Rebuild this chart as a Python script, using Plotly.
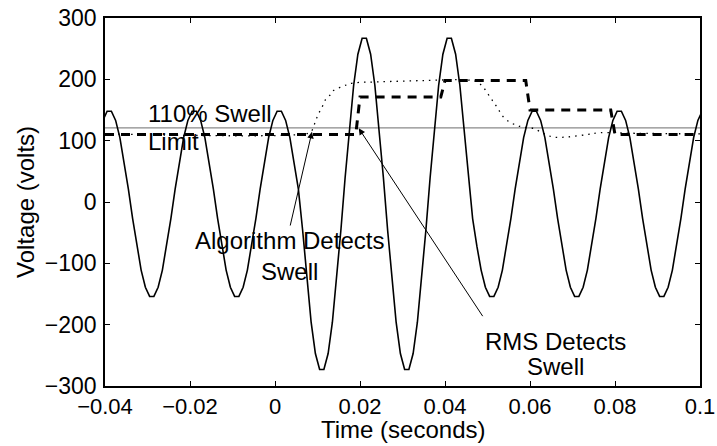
import numpy as np
import plotly.graph_objects as go

# ---------------- data ----------------
# sampled voltage waveform: 1 ms sampling, first sample at -0.0405 s
sample_start = -0.0405
sample_step = 0.001
voltage = [
    133, 148, 148, 133, 105, 66, 21, -27, -72, -111, -139, -154, -154, -139, -111, -72, -27, 21, 66, 105,
    133, 148, 148, 133, 105, 66, 21, -27, -72, -111, -139, -154, -154, -139, -111, -72, -27, 21, 66, 105,
    133, 148, 148, 133, 105, 66, 21, -46, -127, -196, -247, -273, -273, -247, -196, -127, -46, 40, 121, 190,
    241, 267, 267, 241, 190, 121, 40, -46, -127, -196, -247, -273, -273, -247, -196, -127, -46, 40, 121, 190,
    241, 267, 267, 241, 190, 121, 40, -27, -72, -111, -139, -154, -154, -139, -111, -72, -27, 21, 66, 105,
    133, 148, 148, 133, 105, 66, 21, -27, -72, -111, -139, -154, -154, -139, -111, -72, -27, 21, 66, 105,
    133, 148, 148, 133, 105, 66, 21, -27, -72, -111, -139, -154, -154, -139, -111, -72, -27, 21, 66, 105,
    133, 148,
]
time = np.round(sample_start + sample_step * np.arange(len(voltage)), 4)

# algorithm estimate (dotted)
alg_t = [-0.04, 0.007, 0.0085, 0.0094, 0.0101, 0.0111, 0.0118, 0.0129, 0.0136, 0.0153, 0.0169,
         0.0184, 0.025, 0.035, 0.045, 0.0475, 0.049, 0.0506, 0.0522, 0.0537, 0.0553, 0.0569,
         0.0584, 0.0608, 0.0631, 0.0654, 0.0687, 0.0734, 0.0765, 0.085, 0.1]
alg_v = [111, 111, 115, 129, 142, 155, 166, 174, 181, 187, 191,
         194, 196, 198, 199, 196, 187, 171, 155, 139, 130, 125,
         122, 120, 112, 106, 106, 110, 113, 112, 111]

# one-cycle RMS (dashed)
rms_t = [-0.04, 0.019, 0.020, 0.039, 0.040, 0.059, 0.060, 0.079, 0.080, 0.1]
rms_v = [110, 110, 171, 171, 198, 198, 150, 150, 110, 110]

swell_limit = 121
x_ticks = [-0.04, -0.02, 0, 0.02, 0.04, 0.06, 0.08, 0.1]
x_tick_labels = ["\u22120.04", "\u22120.02", "0", "0.02", "0.04", "0.06", "0.08", "0.1"]
y_ticks = [-300, -200, -100, 0, 100, 200, 300]
y_tick_labels = ["\u2212300", "\u2212200", "\u2212100", "0", "100", "200", "300"]

FONT = "Liberation Sans, Arial, Helvetica, sans-serif"
FS = 24
TFS = 23

fig = go.Figure()
fig.add_trace(go.Scatter(x=[-0.04, 0.1], y=[swell_limit, swell_limit], mode="lines",
                         line=dict(color="#8a8a8a", width=1.2), showlegend=False))
fig.add_trace(go.Scatter(x=time, y=voltage, mode="lines",
                         line=dict(color="black", width=1.6), showlegend=False))
fig.add_trace(go.Scatter(x=alg_t, y=alg_v, mode="lines", line_shape="spline",
                         line=dict(color="black", width=1.3, dash="1.5px,5px"), showlegend=False))
fig.add_trace(go.Scatter(x=rms_t, y=rms_v, mode="lines",
                         line=dict(color="black", width=3, dash="9px,7px"), showlegend=False))

axis_common = dict(showline=True, linecolor="black", linewidth=1.5, mirror="ticks",
                   ticks="inside", ticklen=5, tickwidth=1, tickcolor="black",
                   showgrid=False, zeroline=False, automargin=False)
fig.update_xaxes(range=[-0.04, 0.1], tickvals=x_ticks, ticktext=x_tick_labels,
                 ticklabelstandoff=0, tickfont=dict(family=FONT, size=22, color="black"),
                 **axis_common)
fig.update_yaxes(range=[-300, 300], tickvals=y_ticks, ticktext=y_tick_labels,
                 ticklabelstandoff=2, tickfont=dict(family=FONT, size=TFS, color="black"),
                 **axis_common)

def txt(x, y, s, xanchor="center"):
    fig.add_annotation(x=x, y=y, xref="x", yref="y", text=s, showarrow=False,
                       xanchor=xanchor, yanchor="middle",
                       font=dict(family=FONT, size=FS, color="black"))

txt(-0.0304, 144.5, "110% Swell", "left")
txt(-0.0304, 98.3, "Limit", "left")
txt(0.0035, -63.5, "Algorithm Detects")
txt(0.0035, -113.5, "Swell")
txt(0.0661, -227, "RMS Detects")
txt(0.0661, -268, "Swell")

def arrow(hx, hy, tx, ty):
    fig.add_annotation(x=hx, y=hy, ax=tx, ay=ty, xref="x", yref="y", axref="x", ayref="y",
                       text="", showarrow=True, arrowhead=2, arrowsize=1.3, arrowwidth=1,
                       arrowcolor="black", standoff=0, startstandoff=0)

arrow(0.0087, 114.4, 0.0035, -40.8)
arrow(0.0197, 120.2, 0.0491, -188.6)

fig.add_annotation(x=0.5, y=-0.118, xref="paper", yref="paper", text="Time (seconds)",
                   showarrow=False, xanchor="center", yanchor="middle",
                   font=dict(family=FONT, size=FS, color="black"))
fig.add_annotation(x=-0.1345, y=0.5, xref="paper", yref="paper", text="Voltage (volts)",
                   showarrow=False, textangle=-90, xanchor="center", yanchor="middle",
                   font=dict(family=FONT, size=FS, color="black"))

fig.update_layout(width=717, height=446, margin=dict(l=105, r=17, t=18, b=60, autoexpand=False),
                  plot_bgcolor="white", paper_bgcolor="white", showlegend=False)

fig.write_html("out.html")
